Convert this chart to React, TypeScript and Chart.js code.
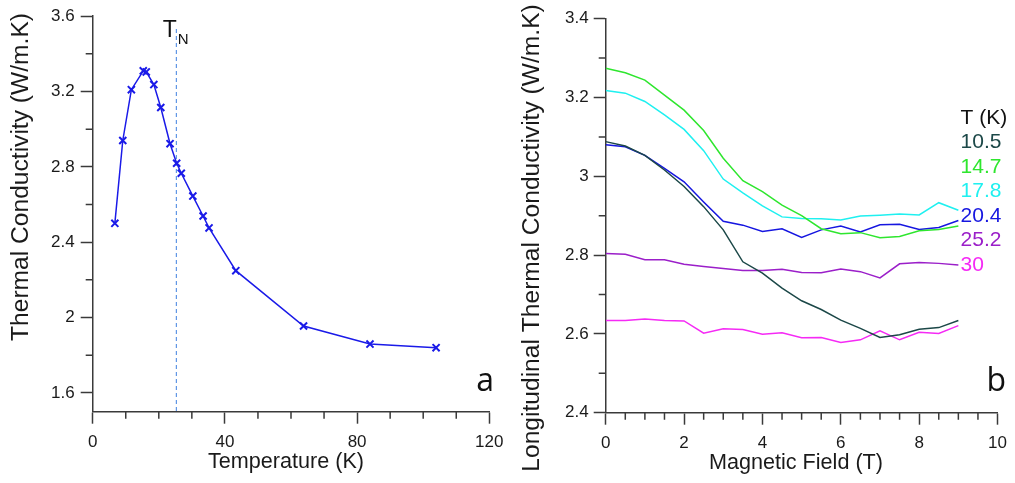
import React, { useEffect, useRef } from 'react';
import { Chart, registerables } from 'chart.js';

Chart.register(...registerables);

// ---------- Panel a: thermal conductivity vs temperature ----------
const temperatureK = [6.7, 9.1, 11.7, 15.3, 16.2, 18.5, 20.6, 23.4, 25.4, 26.8, 30.3, 33.4, 35.2, 43.3, 63.8, 83.9, 103.9];
const conductivityA = [2.5, 2.94, 3.21, 3.31, 3.304, 3.237, 3.115, 2.923, 2.819, 2.766, 2.645, 2.539, 2.476, 2.249, 1.955, 1.859, 1.84];
const neelTemperature = 25.3;

const leftXMajor = [0, 40, 80, 120];
const leftXMinor = [10, 20, 30, 50, 60, 70, 90, 100, 110];
const leftYMajor = [1.6, 2, 2.4, 2.8, 3.2, 3.6];
const leftYMinor = [1.8, 2.2, 2.6, 3, 3.4];

// ---------- Panel b: longitudinal thermal conductivity vs field ----------
const fieldT = [0, 0.5, 1, 1.5, 2, 2.5, 3, 3.5, 4, 4.5, 5, 5.5, 6, 6.5, 7, 7.5, 8, 8.5, 9];
const seriesTemps = ['10.5', '14.7', '17.8', '20.4', '25.2', '30'];
const k10_5 = [3.088, 3.077, 3.053, 3.016, 2.974, 2.923, 2.864, 2.783, 2.754, 2.716, 2.684, 2.662, 2.635, 2.614, 2.591, 2.598, 2.612, 2.616, 2.634];
const k14_7 = [3.274, 3.263, 3.244, 3.206, 3.168, 3.116, 3.046, 2.989, 2.961, 2.927, 2.9, 2.867, 2.854, 2.857, 2.844, 2.847, 2.862, 2.865, 2.874];
const k17_8 = [3.218, 3.211, 3.19, 3.156, 3.119, 3.065, 2.993, 2.958, 2.925, 2.897, 2.893, 2.892, 2.889, 2.899, 2.901, 2.904, 2.902, 2.933, 2.914];
const k20_4 = [3.08, 3.075, 3.053, 3.02, 2.986, 2.935, 2.886, 2.876, 2.86, 2.867, 2.845, 2.864, 2.874, 2.859, 2.877, 2.878, 2.865, 2.87, 2.888];
const k25_2 = [2.804, 2.802, 2.788, 2.788, 2.777, 2.771, 2.766, 2.761, 2.761, 2.764, 2.756, 2.755, 2.765, 2.758, 2.742, 2.778, 2.781, 2.779, 2.775];
const k30 = [2.634, 2.634, 2.638, 2.634, 2.633, 2.602, 2.613, 2.611, 2.599, 2.603, 2.59, 2.591, 2.578, 2.585, 2.608, 2.585, 2.604, 2.601, 2.621];
const seriesValues = [k10_5, k14_7, k17_8, k20_4, k25_2, k30];

const rightXMajor = [0, 2, 4, 6, 8, 10];
const rightXMinor = [0.5, 1, 1.5, 2.5, 3, 3.5, 4.5, 5, 5.5, 6.5, 7, 7.5, 8.5, 9, 9.5];
const rightYMajor = [2.4, 2.6, 2.8, 3, 3.2, 3.4];
const rightYMinor = [2.5, 2.7, 2.9, 3.1, 3.3];

// ---------- styles ----------
const seriesColors = ['#1c4848', '#2ee62e', '#1ff0f0', '#1616e0', '#9b1fc9', '#f52af5'];
const pointBlue = '#1a1ae8';
const axisColor = '#3a3a3a';
const textColor = '#1a1a1a';
const FONT = "'Liberation Sans', Arial, sans-serif";

function minorTickPlugin(specs: { axis: string; values: number[] }[]) {
  return {
    id: 'minorTicks',
    afterDraw(chart: any) {
      const ctx = chart.ctx;
      ctx.save();
      ctx.strokeStyle = axisColor;
      ctx.lineWidth = 1.5;
      ctx.beginPath();
      for (const spec of specs) {
        const scale = chart.scales[spec.axis];
        for (const v of spec.values) {
          const p = scale.getPixelForValue(v);
          if (scale.isHorizontal()) {
            ctx.moveTo(p, scale.top);
            ctx.lineTo(p, scale.top + 7);
          } else {
            ctx.moveTo(scale.right, p);
            ctx.lineTo(scale.right - 7, p);
          }
        }
      }
      ctx.stroke();
      ctx.restore();
    },
  };
}

function titlePlugin(xTitle: string, xPos: [number, number], yTitle: string, yPos: [number, number]) {
  return {
    id: 'axisTitles',
    afterDraw(chart: any) {
      const ctx = chart.ctx;
      ctx.save();
      ctx.fillStyle = textColor;
      ctx.textAlign = 'center';
      ctx.textBaseline = 'middle';
      ctx.font = `21.6px ${FONT}`;
      ctx.fillText(xTitle, xPos[0], xPos[1]);
      ctx.translate(yPos[0], yPos[1]);
      ctx.rotate(-Math.PI / 2);
      ctx.font = `24.6px ${FONT}`;
      ctx.fillText(yTitle, 0, 0);
      ctx.restore();
    },
  };
}

function axisOptions(min: number, max: number, majors: number[], horizontal: boolean, fitSize: number, tickPad: number) {
  return {
    type: 'linear',
    position: horizontal ? 'bottom' : 'left',
    min,
    max,
    afterBuildTicks: (scale: any) => {
      scale.ticks = majors.map((v) => ({ value: v }));
    },
    afterFit: (scale: any) => {
      if (horizontal) scale.height = fitSize;
      else scale.width = fitSize;
    },
    grid: {
      display: true,
      drawOnChartArea: false,
      drawTicks: true,
      tickLength: 12,
      tickWidth: 1.5,
      tickColor: axisColor,
    },
    border: { display: true, color: axisColor, width: 1.5 },
    ticks: {
      autoSkip: false,
      maxRotation: 0,
      padding: tickPad,
      color: textColor,
      font: { family: FONT, size: 17 },
      callback: (value: number) => String(value),
    },
    title: { display: false },
  };
}

const leftAnnotations = {
  id: 'leftAnnotations',
  beforeDatasetsDraw(chart: any) {
    const { ctx, chartArea } = chart;
    const x = chart.scales.x.getPixelForValue(neelTemperature);
    ctx.save();
    ctx.strokeStyle = '#3f80e0';
    ctx.lineWidth = 1;
    ctx.setLineDash([4, 3]);
    ctx.beginPath();
    ctx.moveTo(x, 29);
    ctx.lineTo(x, chartArea.bottom);
    ctx.stroke();
    ctx.restore();
  },
  afterDraw(chart: any) {
    const { ctx, chartArea } = chart;
    const x = chart.scales.x.getPixelForValue(neelTemperature);
    ctx.save();
    ctx.fillStyle = '#111';
    ctx.textBaseline = 'alphabetic';
    ctx.textAlign = 'left';
    ctx.font = `23px ${FONT}`;
    ctx.fillText('T', x - 13.5, 37);
    ctx.font = `15px ${FONT}`;
    ctx.fillText('N', x + 1.5, 43.5);
    ctx.font = `32px 'Open Sans', sans-serif`;
    ctx.fillText('a', chartArea.right - 13, chartArea.bottom - 21);
    ctx.restore();
  },
};

const rightAnnotations = {
  id: 'rightAnnotations',
  afterDraw(chart: any) {
    const { ctx, chartArea } = chart;
    ctx.save();
    ctx.textAlign = 'left';
    ctx.textBaseline = 'middle';
    ctx.font = `21px ${FONT}`;
    const lx = chartArea.right - 37;
    ctx.fillStyle = '#111';
    ctx.fillText('T (K)', lx, 118);
    chart.data.datasets.forEach((ds: any, i: number) => {
      ctx.fillStyle = ds.borderColor;
      ctx.fillText(ds.label, lx, 118 + (i + 1) * 24.5);
    });
    ctx.textBaseline = 'alphabetic';
    ctx.fillStyle = '#111';
    ctx.font = `32px 'Open Sans', sans-serif`;
    ctx.fillText('b', chartArea.right - 11, chartArea.bottom - 22);
    ctx.restore();
  },
};

const RIGHT_OFFSET = 510;

export default function App() {
  const leftRef = useRef<HTMLCanvasElement | null>(null);
  const rightRef = useRef<HTMLCanvasElement | null>(null);

  useEffect(() => {
    Chart.defaults.font.family = FONT;
    const left = new Chart(leftRef.current as HTMLCanvasElement, {
      type: 'line',
      data: {
        datasets: [
          {
            label: 'k',
            data: temperatureK.map((t, i) => ({ x: t, y: conductivityA[i] })),
            borderColor: pointBlue,
            backgroundColor: pointBlue,
            borderWidth: 1.5,
            pointStyle: 'crossRot',
            pointRadius: 5,
            pointBorderWidth: 2,
            pointBorderColor: pointBlue,
            tension: 0,
          },
        ],
      },
      options: {
        responsive: false,
        animation: false,
        layout: { padding: { left: 0, top: 14, right: 30.7, bottom: 0 } },
        plugins: { legend: { display: false }, tooltip: { enabled: false } },
        scales: {
          x: axisOptions(0, 120, leftXMajor, true, 71.3, 8),
          y: axisOptions(1.5, 3.6, leftYMajor, false, 92.7, 6),
        },
      } as any,
      plugins: [
        minorTickPlugin([
          { axis: 'x', values: leftXMinor },
          { axis: 'y', values: leftYMinor },
        ]),
        titlePlugin('Temperature (K)', [286, 462], 'Thermal Conductivity (W/m.K)', [21.5, 177]),
        leftAnnotations,
      ],
    });

    const right = new Chart(rightRef.current as HTMLCanvasElement, {
      type: 'line',
      data: {
        datasets: seriesValues.map((vals, s) => ({
          label: seriesTemps[s],
          data: fieldT.map((b, i) => ({ x: b, y: vals[i] })),
          borderColor: seriesColors[s],
          backgroundColor: seriesColors[s],
          borderWidth: 1.5,
          pointRadius: 0,
          tension: 0,
        })),
      },
      options: {
        responsive: false,
        animation: false,
        layout: { padding: { left: 0, top: 18.7, right: 15, bottom: 0 } },
        plugins: { legend: { display: false }, tooltip: { enabled: false } },
        scales: {
          x: axisOptions(0, 10, rightXMajor, true, 70.3, 8),
          y: axisOptions(2.4, 3.4, rightYMajor, false, 605.7 - RIGHT_OFFSET, 5),
        },
      } as any,
      plugins: [
        minorTickPlugin([
          { axis: 'x', values: rightXMinor },
          { axis: 'y', values: rightYMinor },
        ]),
        titlePlugin('Magnetic Field (T)', [796 - RIGHT_OFFSET, 463], 'Longitudinal Thermal Conductivity (W/m.K)', [532.5 - RIGHT_OFFSET, 238]),
        rightAnnotations,
      ],
    });

    return () => {
      left.destroy();
      right.destroy();
    };
  }, []);

  return (
    <div style={{ position: 'absolute', left: 0, top: 0, width: 1015, height: 483, background: '#fff' }}>
      <canvas ref={leftRef} width={520} height={483} style={{ position: 'absolute', left: 0, top: 0, width: 520, height: 483 }} />
      <canvas
        ref={rightRef}
        width={1015 - RIGHT_OFFSET}
        height={483}
        style={{ position: 'absolute', left: RIGHT_OFFSET, top: 0, width: 1015 - RIGHT_OFFSET, height: 483 }}
      />
    </div>
  );
}
